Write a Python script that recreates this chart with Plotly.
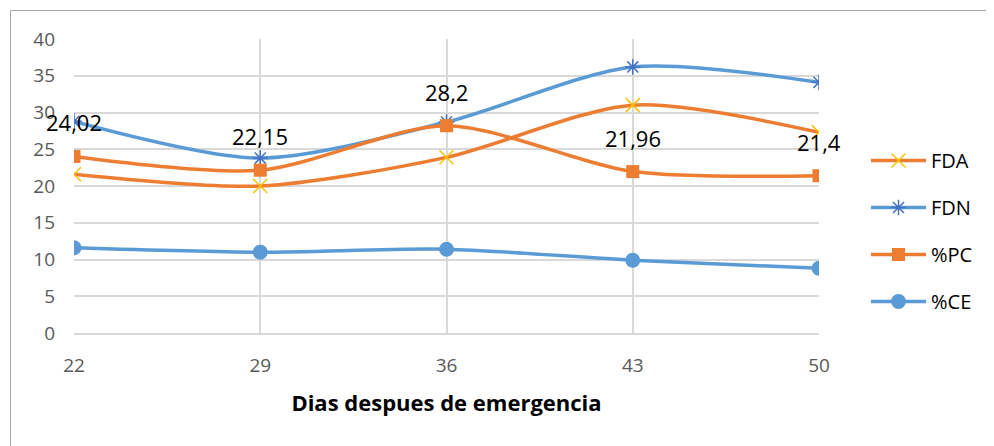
import plotly.graph_objects as go

days = [22, 29, 36, 43, 50]
fda = [21.6, 20.0, 23.9, 31.0, 27.3]
fdn = [28.8, 23.8, 28.7, 36.2, 34.1]
pc = [24.02, 22.15, 28.2, 21.96, 21.4]
ce = [11.6, 11.0, 11.4, 9.9, 8.8]
pc_labels = ["24,02", "22,15", "28,2", "21,96", "21,4"]

ORANGE = "#ED7D31"
BLUE = "#5B9BD5"
YELLOW = "#FFC000"
DBLUE = "#4472C4"
FONT = "Open Sans"

fig = go.Figure()
fig.add_trace(go.Scatter(
    x=days, y=fda, name="FDA", mode="lines+markers",
    line=dict(color=ORANGE, width=3.5, shape="spline", smoothing=0.8),
    marker=dict(symbol="x-thin", size=14, color=YELLOW, line=dict(color=YELLOW, width=1.5)),
    legendgroup="a"))
fig.add_trace(go.Scatter(
    x=days, y=fdn, name="FDN", mode="lines+markers",
    line=dict(color=BLUE, width=3.5, shape="spline", smoothing=0.8),
    marker=dict(symbol="asterisk", size=13, color=DBLUE, line=dict(color=DBLUE, width=1.5)),
    legendgroup="b"))
fig.add_trace(go.Scatter(
    x=days, y=pc, name="%PC", mode="lines+markers",
    line=dict(color=ORANGE, width=3.5, shape="spline", smoothing=0.8),
    marker=dict(symbol="square", size=13, color=ORANGE),
    legendgroup="c"))
fig.add_trace(go.Scatter(
    x=days, y=ce, name="%CE", mode="lines+markers",
    line=dict(color=BLUE, width=3.5, shape="spline", smoothing=0.8),
    marker=dict(symbol="circle", size=15, color=BLUE),
    legendgroup="d"))

for xv, yv, lab in zip(days, pc, pc_labels):
    fig.add_annotation(x=xv, y=yv, text=lab, showarrow=False, yshift=34,
                       font=dict(family=FONT, size=22, color="#000000"))

# page body adds an 8px offset; target screen coords below
OFF = 8
L, R, T, B = 74 - OFF, 819 - OFF, 39 - OFF, 333 - OFF
W, H = 994 - OFF, 446 - OFF
pw, ph = R - L, B - T

def px(xs):
    return (xs - OFF - L) / pw

def py(ys):
    return (B - (ys - OFF)) / ph

fig.add_shape(type="rect", xref="paper", yref="paper",
              x0=px(10.5), x1=px(993.5), y0=py(470), y1=py(10.5),
              line=dict(color="#A6A6A6", width=1), fillcolor="rgba(0,0,0,0)", layer="below")

fig.update_layout(
    width=W, height=H,
    margin=dict(l=L, r=W - R, t=T, b=H - B),
    paper_bgcolor="white", plot_bgcolor="white",
    font=dict(family=FONT, size=19, color="#595959"),
    showlegend=True,
    legend=dict(x=px(866), xanchor="left", y=py(141), yanchor="top",
                traceorder="grouped", tracegroupgap=18,
                itemwidth=55,
                font=dict(family=FONT, size=20, color="#000000"),
                bgcolor="rgba(0,0,0,0)"),
    xaxis=dict(range=[22, 50], tickvals=days, ticktext=[str(d) for d in days],
               showgrid=True, gridcolor="#D9D9D9", gridwidth=1.5,
               zeroline=False, showline=True, linecolor="#D9D9D9", linewidth=1.5,
               ticks="", ticklabelstandoff=14,
               tickfont=dict(family=FONT, size=19, color="#595959"),
               title=dict(text="<b>Dias despues de emergencia</b>", standoff=19,
                          font=dict(family=FONT, size=22, color="#000000"))),
    yaxis=dict(range=[0, 40], dtick=5, tick0=0,
               showgrid=True, gridcolor="#D9D9D9", gridwidth=1.5,
               zeroline=False, showline=False, ticks="", ticklabelstandoff=18,
               tickfont=dict(family=FONT, size=19, color="#595959")),
)

fig.write_html("out.html")
